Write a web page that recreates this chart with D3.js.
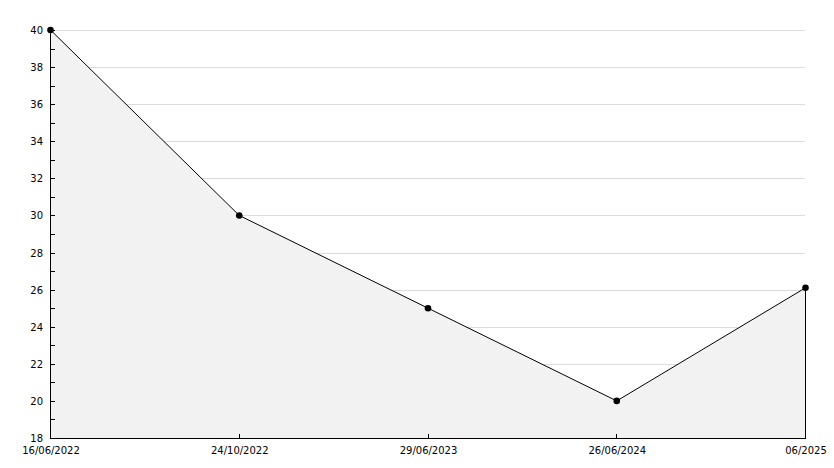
<!DOCTYPE html>
<html><head><meta charset="utf-8">
<script src="https://cdn.jsdelivr.net/npm/d3@7"></script>
<style>body{margin:0;background:#fff}svg{display:block}</style>
</head><body>
<script>
const categories = ["16/06/2022","24/10/2022","29/06/2023","26/06/2024","06/2025"];
const values = [40, 30, 25, 20, 26.1];
const yTicks = [18,20,22,24,26,28,30,32,34,36,38,40];

const W = 834, H = 468;
const m = {l:50, r:29, t:30, b:30};
const svg = d3.select("body").append("svg").attr("width",W).attr("height",H);
const x = d3.scalePoint().domain(categories).range([m.l, W-m.r]);
const y = d3.scaleLinear().domain([18,40]).range([H-m.b, m.t]);
const font = "DejaVu Sans, Verdana, sans-serif";

// gridlines
svg.append("g").selectAll("line").data(yTicks.filter(d=>d>18)).join("line")
  .attr("x1",m.l).attr("x2",W-m.r).attr("y1",d=>Math.round(y(d))+0.5).attr("y2",d=>Math.round(y(d))+0.5)
  .attr("stroke","#dcdcdc").attr("stroke-width",1);

const pts = categories.map((c,i)=>({c, v:values[i]}));
// area
svg.append("path").datum(pts)
  .attr("d", d3.area().x(d=>x(d.c)+0.5).y0(y(18)).y1(d=>y(d.v)))
  .attr("fill","#f2f2f2");
// right edge
svg.append("line").attr("x1",x(categories[4])+0.5).attr("x2",x(categories[4])+0.5)
  .attr("y1",y(values[4])).attr("y2",y(18)).attr("stroke","#000");
// line
svg.append("path").datum(pts)
  .attr("d", d3.line().x(d=>x(d.c)+0.5).y(d=>y(d.v)))
  .attr("fill","none").attr("stroke","#000").attr("stroke-width",1);

// y axis
const ya = svg.append("g");
ya.append("line").attr("x1",m.l+0.5).attr("x2",m.l+0.5).attr("y1",m.t).attr("y2",H-m.b).attr("stroke","#000");
ya.selectAll("line.t").data(d3.range(19,41,1)).join("line").attr("class","t")
  .attr("x1",m.l).attr("x2",m.l+5).attr("y1",d=>Math.round(y(d))+0.5).attr("y2",d=>Math.round(y(d))+0.5)
  .attr("stroke","#000");
ya.selectAll("text").data(yTicks).join("text")
  .attr("x",m.l-7).attr("y",d=>Math.round(y(d))+4).attr("text-anchor","end")
  .attr("font-family",font).attr("font-size",10).attr("fill","#000").text(d=>d);

// x axis
const xa = svg.append("g");
xa.append("line").attr("x1",m.l).attr("x2",W-m.r+1).attr("y1",H-m.b+0.5).attr("y2",H-m.b+0.5).attr("stroke","#000");
xa.selectAll("line.t").data(categories.slice(1,4)).join("line").attr("class","t")
  .attr("x1",d=>Math.round(x(d))+0.5).attr("x2",d=>Math.round(x(d))+0.5).attr("y1",H-m.b).attr("y2",H-m.b-4).attr("stroke","#000");
xa.selectAll("text").data(categories).join("text")
  .attr("x",d=>x(d)+1).attr("y",H-m.b+16).attr("text-anchor","middle")
  .attr("font-family",font).attr("font-size",10).attr("fill","#000").text(d=>d);

// markers
svg.append("g").selectAll("path").data(pts).join("path")
  .attr("transform",d=>`translate(${x(d.c)+0.5},${y(d.v)})`)
  .attr("d", d3.symbol().type(d3.symbolCircle).size(34)).attr("fill","#000");
</script>
</body></html>
